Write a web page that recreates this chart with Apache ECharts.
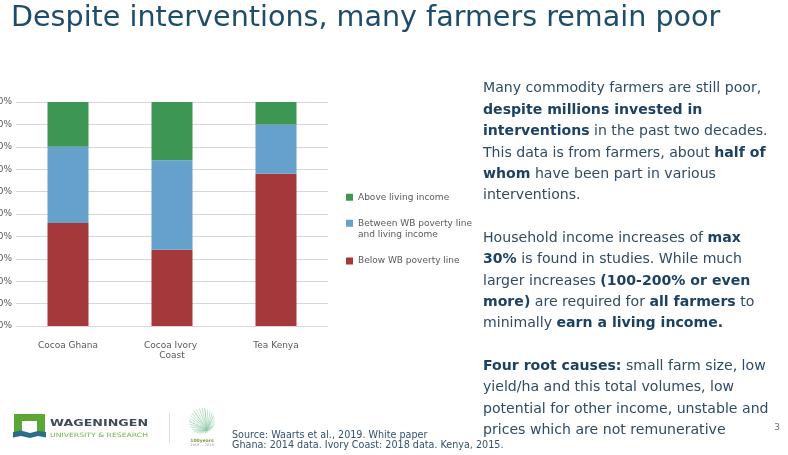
<!DOCTYPE html>
<html><head><meta charset="utf-8">
<script src="https://cdn.jsdelivr.net/npm/echarts@6/dist/echarts.min.js"></script>
<style>html,body{margin:0;padding:0;background:#fff}#c{width:788px;height:455px}</style>
</head><body><div id="c"></div>
<script>
// ---- data ----
const categories = ['Cocoa Ghana', 'Cocoa Ivory Coast', 'Tea Kenya'];
const belowPoverty = [46, 34, 68];
const betweenPovertyLiving = [34, 40, 22];
const aboveLiving = [20, 26, 10];
const seriesNames = ['Below WB poverty line', 'Between WB poverty line and living income', 'Above living income'];
const legendOrder = ['Above living income', 'Between WB poverty line and living income', 'Below WB poverty line'];
const yMin = 0, yMax = 100, yStep = 10;

const titleText = 'Despite interventions, many farmers remain poor';
const sourceLines = ['Source: Waarts et al., 2019. White paper', 'Ghana: 2014 data. Ivory Coast: 2018 data. Kenya, 2015.'];
const para1 = [
  [['n', 'Many commodity farmers are still poor,']],
  [['b', 'despite millions invested in']],
  [['b', 'interventions'], ['n', ' in the past two decades.']],
  [['n', 'This data is from farmers, about '], ['b', 'half of']],
  [['b', 'whom'], ['n', ' have been part in various']],
  [['n', 'interventions.']]
];
const para2 = [
  [['n', 'Household income increases of '], ['b', 'max']],
  [['b', '30%'], ['n', ' is found in studies. While much']],
  [['n', 'larger increases '], ['b', '(100-200% or even']],
  [['b', 'more)'], ['n', ' are required for '], ['b', 'all farmers'], ['n', ' to']],
  [['n', 'minimally '], ['b', 'earn a living income.']]
];
const para3 = [
  [['b', 'Four root causes:'], ['n', ' small farm size, low']],
  [['n', 'yield/ha and this total volumes, low']],
  [['n', 'potential for other income, unstable and']],
  [['n', 'prices which are not remunerative']]
];

// ---- styling ----
const FONT = 'DejaVu Sans';
const colors = ['#a4383a', '#66a1cb', '#3e9654'];
const measureCtx = document.createElement('canvas').getContext('2d');
function measure(text, size, weight) {
  measureCtx.font = (weight || 'normal') + ' ' + size + 'px "' + FONT + '"';
  return measureCtx.measureText(text).width;
}

const graphic = [];
graphic.push({type: 'text', x: 11, y: 19, style: {text: titleText, fontFamily: FONT, fontSize: 28.6, fill: '#1e4d6b', verticalAlign: 'middle'}});

const rich = {
  n: {fontFamily: FONT, fontSize: 14.1, fill: '#2e4b66'},
  b: {fontFamily: FONT, fontSize: 14.1, fontWeight: 'bold', fill: '#1c4263'}
};
function addPara(lines, y0) {
  lines.forEach((segs, i) => {
    graphic.push({type: 'text', x: 483, y: y0 + i * 21.45, style: {
      text: segs.map(s => '{' + s[0] + '|' + s[1] + '}').join(''),
      rich: rich, fontFamily: FONT, fontSize: 14.1, verticalAlign: 'middle'
    }});
  });
}
addPara(para1, 88.5);
addPara(para2, 238);
addPara(para3, 366);

sourceLines.forEach((t, i) => {
  graphic.push({type: 'text', x: 232, y: 435 + i * 10.2, style: {text: t, fontFamily: FONT, fontSize: 9.6, fill: '#34516d', verticalAlign: 'middle'}});
});
graphic.push({type: 'text', x: 777, y: 428, style: {text: '3', fontFamily: FONT, fontSize: 9, fill: '#6f6f6f', align: 'center', verticalAlign: 'middle'}});

// Wageningen logo
graphic.push({type: 'polygon', shape: {points: [[14, 433], [14, 414], [45, 414], [45, 433], [37, 433], [37, 421], [22, 421], [22, 433]]}, style: {fill: '#5aa736'}});
graphic.push({type: 'polygon', shape: {points: [[13, 432], [21, 430.5], [30, 433], [38, 431], [46, 432], [46, 437.5], [38, 436], [30, 438], [21, 436], [13, 437.5]]}, style: {fill: '#2b6d8b'}});
const w1 = measure('WAGENINGEN', 9, 'bold');
graphic.push({type: 'text', x: 50, y: 423.5, scaleX: 98 / w1, style: {text: 'WAGENINGEN', fontFamily: FONT, fontSize: 9, fontWeight: 'bold', fill: '#3f4b57', verticalAlign: 'middle'}});
const w2 = measure('UNIVERSITY & RESEARCH', 6);
graphic.push({type: 'text', x: 50, y: 435, scaleX: 98 / w2, style: {text: 'UNIVERSITY & RESEARCH', fontFamily: FONT, fontSize: 6, fill: '#6db545', verticalAlign: 'middle'}});
graphic.push({type: 'line', shape: {x1: 169.5, y1: 413, x2: 169.5, y2: 443}, style: {stroke: '#dedede', lineWidth: 1}});
// 100 years fan logo
const fanColors = ['#8cc7dc', '#9fcf6a', '#5fb0d0', '#b7dc8a'];
for (let k = 0; k < 28; k++) {
  const a = Math.PI * 2 * k / 28;
  graphic.push({type: 'line', shape: {x1: 207, y1: 430, x2: 202 + 13 * Math.cos(a), y2: 421 + 13 * Math.sin(a)}, style: {stroke: fanColors[k % 4], lineWidth: 0.6}});
}
graphic.push({type: 'text', x: 202, y: 441, style: {text: '100years', fontFamily: FONT, fontSize: 4.5, fontWeight: 'bold', fill: '#7d9a45', align: 'center', verticalAlign: 'middle'}});
graphic.push({type: 'text', x: 202, y: 445, style: {text: '1918 — 2018', fontFamily: FONT, fontSize: 3.5, fill: '#9a9a9a', align: 'center', verticalAlign: 'middle'}});

// legend icons: square centred for one-line labels, square at top for the two-line label
const iconMid = 'path://M0,0H7V0.01H0Z M0,6H7V13H0Z M0,18.99H7V19H0Z';
const iconTop = 'path://M0,0H7V7H0Z M0,18.99H7V19H0Z';

const seriesData = [belowPoverty, betweenPovertyLiving, aboveLiving];
const option = {
  animation: false,
  backgroundColor: '#ffffff',
  textStyle: {fontFamily: FONT},
  grid: {left: 16, right: 460, top: 102, bottom: 129, outerBoundsMode: 'none'},
  xAxis: {
    type: 'category', data: categories,
    axisTick: {show: false},
    axisLine: {lineStyle: {color: '#d9d9d9', width: 1}},
    axisLabel: {color: '#595959', fontSize: 9, margin: 14, lineHeight: 10.7, width: 75, overflow: 'break', interval: 0}
  },
  yAxis: {
    type: 'value', min: yMin, max: yMax, interval: yStep,
    axisLabel: {formatter: '{value}%', color: '#595959', fontSize: 9, margin: 4},
    axisLine: {show: false}, axisTick: {show: false},
    splitLine: {lineStyle: {color: '#d6d6d6', width: 1}}
  },
  legend: {
    orient: 'vertical', left: 346, top: 187.8, padding: 0,
    itemWidth: 7, itemHeight: 19, itemGap: 10.7, selectedMode: false,
    data: legendOrder.map(n => ({name: n, icon: n.indexOf(' and ') > 0 ? iconTop : iconMid})),
    textStyle: {color: '#595959', fontSize: 9, lineHeight: 11.7, width: 118, overflow: 'break'}
  },
  series: seriesNames.map((name, i) => ({
    name: name, type: 'bar', stack: 'total', barWidth: 41,
    itemStyle: {color: colors[i]},
    data: seriesData[i]
  })),
  graphic: graphic
};
const chart = echarts.init(document.getElementById('c'), null, {renderer: 'canvas'});
chart.setOption(option);
</script>
</body></html>
